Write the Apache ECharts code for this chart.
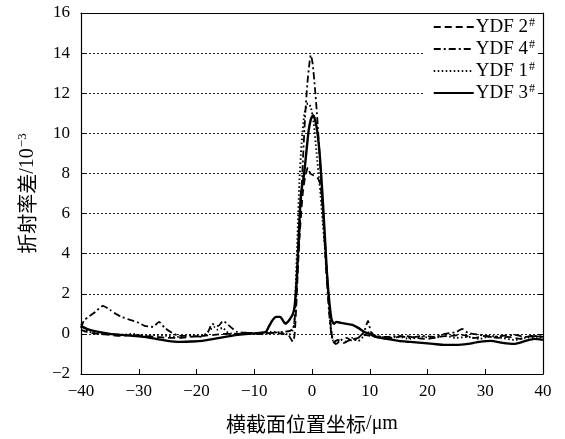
<!DOCTYPE html>
<html>
<head>
<meta charset="utf-8">
<script src="https://cdn.jsdelivr.net/npm/echarts@6/dist/echarts.min.js"></script>
<style>html,body{margin:0;padding:0;background:#fff;}#c{width:565px;height:439px;}</style>
</head>
<body>
<div id="c"></div>
<script>
const seriesNames = ['YDF 2', 'YDF 4', 'YDF 1', 'YDF 3'];
const xTicks = [-40, -30, -20, -10, 0, 10, 20, 30, 40];
const yTicks = [-2, 0, 2, 4, 6, 8, 10, 12, 14, 16];

const ydf2 = [[-40,0.2],[-39,0.1],[-37,0.0],[-35,-0.05],[-33,-0.1],[-31,-0.05],[-29,-0.1],[-27,-0.15],[-25,-0.2],[-23,-0.2],[-21,-0.15],[-19,-0.1],[-17,-0.05],[-15,0.0],[-13,0.0],[-11,0.05],[-9,0.0],[-7,0.05],[-5,0.0],[-4,-0.1],[-3.3,-0.4],[-3.0,0.0],[-2.7,1.5],[-2.4,3.5],[-2.0,5.5],[-1.6,7],[-1.2,7.8],[-0.7,8.3],[-0.3,8.0],[0.3,7.9],[0.9,7.8],[1.4,7.5],[1.8,6.5],[2.2,4.8],[2.6,3],[3.0,1.2],[3.4,0],[3.8,-0.4],[4.5,-0.3],[5.5,-0.45],[6.5,-0.3],[8,-0.2],[9,-0.05],[10,-0.1],[12,-0.15],[14,-0.2],[16,-0.1],[18,-0.2],[20,-0.25],[22,-0.15],[24,-0.1],[26,-0.05],[28,-0.2],[30,-0.1],[32,-0.2],[34,-0.15],[36,-0.25],[38,-0.1],[40,-0.15]];

const ydf4 = [[-40,0.3],[-39.5,0.65],[-38.5,0.9],[-37.5,1.1],[-36.2,1.4],[-35,1.2],[-34,1.0],[-33,0.85],[-31.5,0.7],[-30,0.55],[-29,0.4],[-27.5,0.35],[-26.5,0.6],[-25.5,0.3],[-24.5,0.1],[-23,-0.1],[-21,-0.1],[-19,-0.15],[-18,0.1],[-17.3,0.5],[-16.2,0.4],[-15.4,0.65],[-14.5,0.45],[-13,0.1],[-11,0.05],[-9,0.0],[-7,0.05],[-5,0.1],[-3.8,0.15],[-3.2,0.3],[-2.8,1.5],[-2.4,3.8],[-2.0,6],[-1.6,8.5],[-1.2,10.8],[-0.8,12.5],[-0.4,13.6],[-0.2,13.9],[0.1,13.5],[0.5,12.3],[0.9,10.8],[1.3,9],[1.7,7],[2.1,5],[2.5,3],[2.9,1.3],[3.3,0.1],[3.7,-0.4],[4.2,-0.5],[5,-0.3],[6,-0.2],[7,-0.35],[8,-0.2],[9,0.1],[9.7,0.65],[10.2,0.1],[11,-0.1],[13,-0.15],[15,-0.1],[17,-0.2],[19,-0.1],[21,-0.15],[23,0.0],[25,0.1],[26,0.25],[27,0.05],[29,-0.05],[31,-0.15],[33,-0.1],[35,-0.05],[37,-0.15],[39,-0.1],[40,0.0]];

const ydf1 = [[-40,0.5],[-39.5,0.3],[-38.5,0.1],[-37,0.05],[-35,0.0],[-33,-0.05],[-31,0.0],[-29,-0.1],[-27,-0.05],[-25,-0.1],[-23,-0.15],[-21,-0.05],[-19,-0.1],[-18,0.1],[-17,0.35],[-16.3,0.2],[-15.5,0.3],[-14.5,0.05],[-13,0.0],[-11,0.05],[-9,0.0],[-7,0.1],[-5,0.05],[-4,-0.05],[-3.3,0.2],[-3.0,0.8],[-2.8,2.5],[-2.5,5],[-2.2,7.5],[-1.8,9.5],[-1.3,11],[-0.7,11.5],[-0.2,11.3],[0.3,10.5],[0.8,9],[1.3,7.5],[1.8,5.8],[2.3,4],[2.8,2],[3.2,0.5],[3.6,-0.3],[4.2,-0.5],[5,-0.3],[6,-0.4],[7,-0.2],[8,-0.35],[9,-0.1],[10,0.1],[11,-0.1],[13,-0.2],[15,-0.15],[17,-0.25],[19,-0.15],[21,-0.2],[23,-0.1],[25,-0.2],[27,-0.15],[29,-0.25],[31,-0.1],[33,-0.2],[35,-0.3],[37,-0.2],[39,-0.15],[40,-0.2]];

const ydf3 = [[-40,0.4],[-39,0.25],[-37,0.1],[-35,0.0],[-33,-0.05],[-31,-0.1],[-29,-0.15],[-27,-0.25],[-25,-0.35],[-23,-0.4],[-21,-0.38],[-19,-0.35],[-17,-0.25],[-15,-0.15],[-13,-0.05],[-11,0.0],[-9,0.05],[-8,0.1],[-7.5,0.35],[-6.8,0.7],[-6.2,0.85],[-5.5,0.85],[-5,0.65],[-4.6,0.5],[-4.2,0.6],[-3.8,0.75],[-3.3,1.0],[-3,1.4],[-2.6,3],[-2.2,5.5],[-1.9,7],[-1.4,7.9],[-1,9],[-0.6,10.1],[-0.2,10.7],[0.2,10.9],[0.6,10.6],[1.0,9.9],[1.4,8.7],[1.8,7],[2.2,5],[2.6,3],[3.0,1.6],[3.4,0.7],[3.8,0.5],[4.2,0.6],[5,0.55],[6,0.5],[7,0.45],[8,0.3],[9,0.1],[10,0],[11,-0.15],[13,-0.25],[15,-0.35],[17,-0.4],[19,-0.45],[21,-0.5],[23,-0.55],[25,-0.55],[27,-0.5],[29,-0.4],[31,-0.35],[33,-0.45],[35,-0.5],[37,-0.35],[38.5,-0.25],[40,-0.3]];

const seriesData = [ydf2, ydf4, ydf1, ydf3];
const dashTypes = [[7,4], [7,3,2,3], [1.5,2.5], 'solid'];
const widths = [1.8, 1.8, 1.9, 2.4];

const SERIF = '"Liberation Serif", "DejaVu Serif", serif';
const CJK = '"Noto Sans CJK SC", sans-serif';
const minus = v => String(v).replace('-', '\u2212');

const chart = echarts.init(document.getElementById('c'), null, {renderer: 'canvas'});
chart.setOption({
  animation: false,
  backgroundColor: '#fff',
  grid: {left: 81, right: 22, top: 13, bottom: 65},
  legend: {
    orient: 'vertical',
    right: 26, top: 15,
    itemWidth: 40, itemHeight: 14, itemGap: 2,
    backgroundColor: '#fff',
    padding: [2, 4, 4, 9],
    data: seriesNames,
    itemStyle: {color: 'rgba(0,0,0,0)', borderColor: 'rgba(0,0,0,0)', borderWidth: 0, opacity: 0},
    formatter: name => name + '{sup|#}',
    textStyle: {
      fontFamily: SERIF, fontSize: 19, color: '#000', lineHeight: 20, padding: [0,0,0,-3],
      rich: {sup: {fontFamily: SERIF, fontSize: 12, color: '#000', verticalAlign: 'top', lineHeight: 12, padding: [0,0,8,1]}}
    }
  },
  xAxis: [{
    type: 'value', min: -40, max: 40, interval: 10, position: 'bottom',
    axisLine: {show: true, onZero: false, lineStyle: {color: '#000', width: 1.2}},
    axisTick: {show: true, inside: true, length: 5, lineStyle: {color: '#000'}},
    axisLabel: {fontFamily: SERIF, fontSize: 17, color: '#000', margin: 9, formatter: minus},
    splitLine: {show: false},
    name: '{cjk|横截面位置坐标}{lat|/μm}', nameLocation: 'middle', nameGap: 40,
    nameTextStyle: {fontFamily: CJK, fontSize: 20, color: '#000',
      rich: {cjk: {fontFamily: CJK, fontSize: 20, color: '#000'},
             lat: {fontFamily: SERIF, fontSize: 20, color: '#000'}}}
  }, {
    type: 'value', min: -40, max: 40, interval: 10, position: 'top',
    axisLine: {show: true, onZero: false, lineStyle: {color: '#000', width: 1.2}},
    axisTick: {show: false}, axisLabel: {show: false}, splitLine: {show: false}
  }],
  yAxis: [{
    type: 'value', min: -2, max: 16, interval: 2, position: 'left',
    axisLine: {show: true, onZero: false, lineStyle: {color: '#000', width: 1.2}},
    axisTick: {show: true, inside: true, length: 5, lineStyle: {color: '#000'}},
    axisLabel: {fontFamily: SERIF, fontSize: 17, color: '#000', margin: 11, formatter: minus},
    splitLine: {show: true, lineStyle: {color: '#222', width: 1, type: [2, 2]}},
    name: '{cjk|折射率差}{lat|/10}{sup|\u22123}', nameLocation: 'middle', nameGap: 42, nameRotate: 90,
    nameTextStyle: {fontFamily: CJK, fontSize: 20, color: '#000',
      rich: {cjk: {fontFamily: CJK, fontSize: 20, color: '#000'},
             lat: {fontFamily: SERIF, fontSize: 20, color: '#000'},
             sup: {fontFamily: SERIF, fontSize: 13, color: '#000', verticalAlign: 'top', padding: [0,0,10,1]}}}
  }, {
    type: 'value', min: -2, max: 16, interval: 2, position: 'right', z: 10,
    axisLine: {show: true, onZero: false, lineStyle: {color: '#000', width: 1.2}},
    axisTick: {show: true, inside: true, length: 5, lineStyle: {color: '#000'}},
    axisLabel: {show: false}, splitLine: {show: false}
  }],
  series: seriesNames.map((n, i) => ({
    name: n, type: 'line', xAxisIndex: 0, yAxisIndex: 0,
    data: seriesData[i], showSymbol: false, symbol: 'none',
    smooth: 0.2, z: 2 + i,
    lineStyle: {color: '#000', width: widths[i], type: dashTypes[i]},
    itemStyle: {color: '#000'}
  }))
});
</script>
</body>
</html>
